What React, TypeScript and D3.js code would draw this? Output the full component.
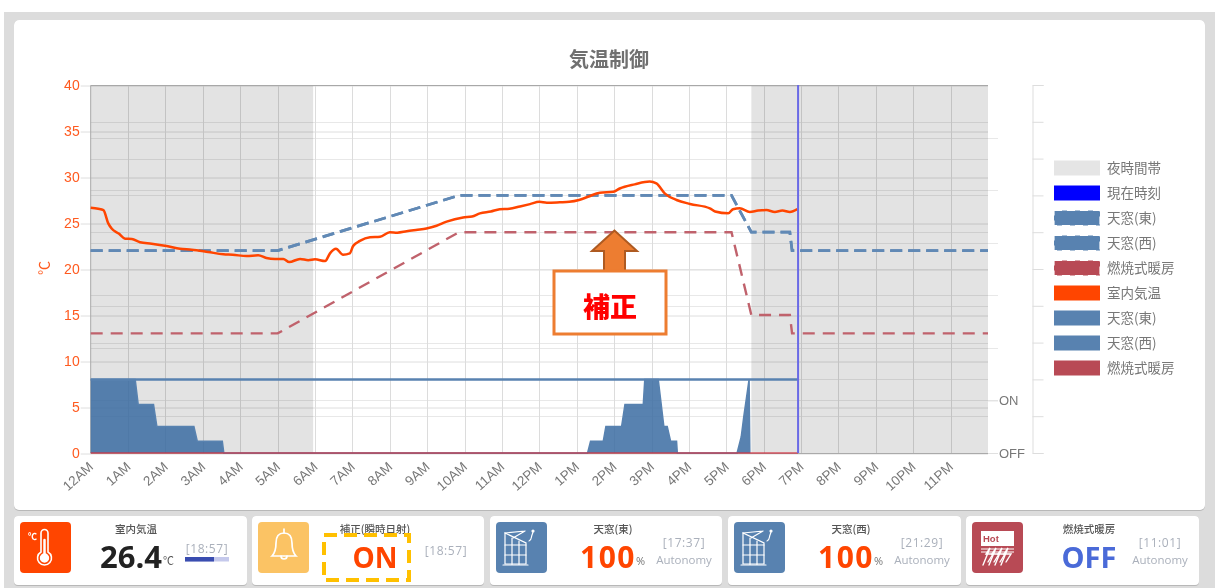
import { useEffect, useRef } from "react";
import * as d3 from "d3";

// --- data ---
const hourLabels = ["12AM","1AM","2AM","3AM","4AM","5AM","6AM","7AM","8AM","9AM","10AM","11AM","12PM","1PM","2PM","3PM","4PM","5PM","6PM","7PM","8PM","9PM","10PM","11PM"];
const tempTicks = [0, 5, 10, 15, 20, 25, 30, 35, 40];

const nightBands: [number, number][] = [[0, 5.95], [17.67, 24]];
const currentHour = 18.92;

const roomTempHours = [0,0.2,0.34,0.47,0.56,0.75,0.92,1.1,1.32,1.63,2.03,2.39,2.7,3.14,3.55,3.8,4.17,4.48,4.7,4.93,5.15,5.31,5.6,5.82,6,6.27,6.4,6.56,6.75,6.93,7.02,7.2,7.47,7.74,8,8.2,8.45,8.7,8.98,9.25,9.52,9.96,10.2,10.41,10.7,10.94,11.2,11.48,11.75,12,12.2,12.55,12.8,13.06,13.3,13.62,13.98,14.15,14.55,14.95,15.13,15.36,15.67,16.03,16.56,16.7,17.05,17.18,17.36,17.63,17.85,18.07,18.3,18.5,18.7,18.9];
const roomTemp = [26.66,26.55,26.4,24.96,24.4,23.85,23.3,23.26,22.9,22.75,22.5,22.2,22.1,21.85,21.6,21.55,21.4,21.5,21.2,21.1,21.1,20.75,21.1,20.95,21.05,20.87,21.7,22.2,21.55,21.7,22.5,23.05,23.45,23.5,24,23.95,24.1,24.25,24.4,24.7,25.15,25.6,25.7,26.05,26.25,26.5,26.55,26.8,27.05,27.3,27.2,27.25,27.3,27.5,27.85,28.3,28.4,28.75,29.2,29.5,29.3,28.2,27.5,27.07,26.6,26.25,26.05,26.5,26.6,26.2,26.35,26.4,26.2,26.35,26.2,26.5];

const setEastHours = [0,5,9.85,17.14,17.67,18.7,18.76,24];
const setEast = [22,22,28,28,24,24,22,22];
const setWest = [22,22,28,28,24,24,22,22];
const setHeaterHours = [0,5,9.85,17.14,17.67,18.7,18.76,24];
const setHeater = [13,13,24,24,15,15,13,13];

const windowHours = [0,1.19,1.27,1.68,1.77,2.76,2.85,3.52,3.56,13.29,13.37,13.71,13.78,14.2,14.29,14.78,14.82,15.18,15.33,15.42,15.51,15.67,15.69,17.29,17.4,17.47,17.54,17.61,17.63];
const windowEast = [100,100,66,66,36,36,16,16,0,0,16,16,36,36,66,66,100,100,36,36,16,16,0,0,22,50,75,100,0];
const windowWestHours = [0, 18.92];
const windowWest = [100, 100];
const heaterHours = [0, 18.92];
const heater = [0, 0];

const legendItems = [
  { label: "夜時間帯", color: "#e5e5e5", dashed: false },
  { label: "現在時刻", color: "#0000ff", dashed: false },
  { label: "天窓(東)", color: "#5882b0", dashed: true },
  { label: "天窓(西)", color: "#5882b0", dashed: true },
  { label: "燃焼式暖房", color: "#b84a55", dashed: true },
  { label: "室内気温", color: "#ff4500", dashed: false },
  { label: "天窓(東)", color: "#5882b0", dashed: false },
  { label: "天窓(西)", color: "#5882b0", dashed: false },
  { label: "燃焼式暖房", color: "#b84a55", dashed: false },
];

const LATIN = "'Liberation Sans', Arial, 'Noto Sans CJK JP', sans-serif";
const CJK = "'Noto Sans CJK JP', sans-serif";
const VALUE = "'Open Sans', 'Noto Sans', sans-serif";

const Chart = () => {
  const svgRef = useRef<SVGSVGElement>(null);

  useEffect(() => {
    if (!svgRef.current) return;
    const svg = d3.select(svgRef.current);
    svg.selectAll("*").remove();

    // page and cards
    svg.append("rect").attr("x", 4).attr("y", 12).attr("width", 1211).attr("height", 576).attr("fill", "#dcdcdc");
    svg.append("rect").attr("x", 14).attr("y", 20).attr("width", 1191).attr("height", 491).attr("rx", 5).attr("fill", "#b8b8b8");
    svg.append("rect").attr("x", 14).attr("y", 20).attr("width", 1191).attr("height", 490).attr("rx", 5).attr("fill", "#fff");

    const x = d3.scaleLinear().domain([0, 24]).range([90.7, 988]);
    const yTemp = d3.scaleLinear().domain([0, 40]).range([453, 85]);
    const yPercent = d3.scaleLinear().domain([0, 500]).range([453, 85]);
    const ySwitch = d3.scaleLinear().domain([0, 7]).range([453, 85]);
    const yTenth = d3.scaleLinear().domain([0, 10]).range([453, 85]);

    svg.append("text").attr("x", 609).attr("y", 67).attr("text-anchor", "middle")
      .attr("font-family", CJK).attr("font-weight", 700).attr("font-size", 20).attr("fill", "#707070").text("気温制御");

    // grid: three overlapping axes, as in the source chart
    const grid = svg.append("g");
    const hLines = (scale: d3.ScaleLinear<number, number>, values: number[], color: string, x2: number) =>
      grid.append("g").selectAll("line").data(values).join("line")
        .attr("x1", x(0)).attr("x2", x2)
        .attr("y1", (d) => Math.round(scale(d)) + 0.5).attr("y2", (d) => Math.round(scale(d)) + 0.5)
        .attr("stroke", color);
    hLines(yTenth, d3.range(1, 10), "#e8e8e8", x(24));
    hLines(ySwitch, d3.range(1, 7), "#e8e8e8", 998);
    grid.append("g").selectAll("line").data(d3.range(1, 24)).join("line")
      .attr("x1", (d) => Math.round(x(d)) + 0.5).attr("x2", (d) => Math.round(x(d)) + 0.5)
      .attr("y1", 85).attr("y2", 453).attr("stroke", "#dcdcdc");

    const tempAxis = d3.axisLeft(yTemp).tickValues(tempTicks).tickSize(10).tickPadding(0);
    const tempG = svg.append("g").attr("transform", `translate(${x(0)},0)`).call(tempAxis);
    tempG.select(".domain").remove();
    tempG.selectAll("line").attr("stroke", "#dedede").attr("x2", x(24) - x(0))
      .attr("x1", -10).attr("y1", 0.5).attr("y2", 0.5);
    tempG.selectAll("text").attr("x", -11).attr("fill", "#ff5a1f")
      .attr("font-family", LATIN).attr("font-size", 14);

    // night bands sit over the grid
    svg.append("g").selectAll("rect").data(nightBands).join("rect")
      .attr("x", (d) => x(d[0])).attr("width", (d) => x(d[1]) - x(d[0]))
      .attr("y", 85).attr("height", 368).attr("fill", "#000").attr("opacity", 0.11);

    // frame
    svg.append("path").attr("d", `M${x(0)},453V85.5H${x(24)}`).attr("fill", "none").attr("stroke", "#a8a8a8");
    svg.append("line").attr("x1", x(0)).attr("x2", x(24)).attr("y1", 453.5).attr("y2", 453.5).attr("stroke", "#aaa");

    // hour labels
    const xAxis = d3.axisBottom(x).tickValues(d3.range(0, 24)).tickSize(0)
      .tickFormat((_d, i) => hourLabels[i]);
    const xG = svg.append("g").attr("transform", "translate(0,453)").call(xAxis);
    xG.select(".domain").remove();
    xG.selectAll("text").attr("fill", "#777").attr("font-family", LATIN).attr("font-size", 13.5)
      .attr("text-anchor", "end").attr("dy", 0).attr("y", 0)
      .attr("transform", "translate(3,15) rotate(-42)");

    svg.append("text").attr("transform", "translate(49,268) rotate(-90)").attr("text-anchor", "middle")
      .attr("font-family", CJK).attr("font-size", 14).attr("fill", "#ff5a1f").text("℃");

    // right axes
    const switchAxis = d3.axisRight(ySwitch).tickValues([0, 1]).tickSize(10).tickPadding(0)
      .tickFormat((d) => (d === 0 ? "OFF" : "ON"));
    const switchG = svg.append("g").attr("transform", `translate(${x(24)},0)`).call(switchAxis);
    switchG.select(".domain").remove();
    switchG.selectAll("line").attr("stroke", "#e0e0e0");
    switchG.selectAll("text").attr("x", 11).attr("fill", "#777").attr("font-family", LATIN).attr("font-size", 13);

    const tenthAxis = d3.axisRight(yTenth).ticks(10).tickSize(11).tickFormat(() => "");
    const tenthG = svg.append("g").attr("transform", "translate(1032.5,0)").call(tenthAxis);
    tenthG.selectAll("line, path").attr("stroke", "#ddd");

    // window opening areas
    const hourIdx = (arr: number[]) => arr.map((_, i) => i);
    const areaEast = d3.area<number>()
      .x((i) => x(windowHours[i])).y0(yPercent(0)).y1((i) => yPercent(windowEast[i]));
    svg.append("path").datum(hourIdx(windowHours)).attr("d", areaEast)
      .attr("fill", "#3b6ca2").attr("fill-opacity", 0.85);
    const lineEast = d3.line<number>().x((i) => x(windowHours[i])).y((i) => yPercent(windowEast[i]));
    svg.append("path").datum(hourIdx(windowHours)).attr("d", lineEast)
      .attr("fill", "none").attr("stroke", "#5882b0").attr("stroke-width", 1.5);

    const lineWest = d3.line<number>().x((i) => x(windowWestHours[i])).y((i) => yPercent(windowWest[i]));
    svg.append("path").datum(hourIdx(windowWestHours)).attr("d", lineWest)
      .attr("fill", "none").attr("stroke", "#5882b0").attr("stroke-width", 2.5);

    const lineHeater = d3.line<number>().x((i) => x(heaterHours[i])).y((i) => yPercent(heater[i]));
    svg.append("path").datum(hourIdx(heaterHours)).attr("d", lineHeater)
      .attr("fill", "none").attr("stroke", "#d0303f").attr("stroke-opacity", 0.6).attr("stroke-width", 2);

    // setpoints
    const setLine = (hours: number[], vals: number[], color: string, width: number, dash: string) => {
      const l = d3.line<number>().x((i) => x(hours[i])).y((i) => yTemp(vals[i]));
      svg.append("path").datum(hourIdx(hours)).attr("d", l).attr("fill", "none")
        .attr("stroke", color).attr("stroke-width", width).attr("stroke-dasharray", dash);
    };
    setLine(setHeaterHours, setHeater, "#c0626c", 2.4, "12 8");
    setLine(setEastHours, setWest, "#6189b5", 2.7, "12 6");
    setLine(setEastHours, setEast, "#6189b5", 2.7, "12 6");

    // room temperature
    const tempLine = d3.line<number>().x((i) => x(roomTempHours[i])).y((i) => yTemp(roomTemp[i]))
      .curve(d3.curveMonotoneX);
    svg.append("path").datum(hourIdx(roomTempHours)).attr("d", tempLine)
      .attr("fill", "none").attr("stroke", "#ff4500").attr("stroke-width", 2.5);

    // now marker
    svg.append("line").attr("x1", x(currentHour)).attr("x2", x(currentHour)).attr("y1", 85).attr("y2", 453)
      .attr("stroke", "#6a6ae6").attr("stroke-width", 2);

    // legend
    const legend = svg.append("g").selectAll("g").data(legendItems).join("g")
      .attr("transform", (_d, i) => `translate(1054,${160.5 + i * 25})`);
    legend.append("rect").attr("width", 46).attr("height", 15).attr("fill", (d) => d.color)
      .attr("stroke", (d) => (d.dashed ? "#fff" : "none")).attr("stroke-dasharray", "8 5").attr("stroke-width", 1.2);
    legend.append("text").attr("x", 53).attr("y", 12.5).attr("fill", "#777")
      .attr("font-family", CJK).attr("font-size", 13.5).text((d) => d.label);

    // annotation
    const note = svg.append("g");
    note.append("path").attr("d", "M614.5,230.5L592,251H604V272H625V251H637Z")
      .attr("fill", "#ed7d31").attr("stroke", "#ae5a21").attr("stroke-width", 2);
    note.append("rect").attr("x", 554).attr("y", 271).attr("width", 112).attr("height", 63)
      .attr("fill", "#fff").attr("stroke", "#ed7d31").attr("stroke-width", 3);
    note.append("text").attr("x", 610).attr("y", 317).attr("text-anchor", "middle")
      .attr("font-family", CJK).attr("font-weight", 900).attr("font-size", 27).attr("fill", "#f00").text("補正");

    // status cards
    const cards = [
      { x: 14, w: 233, icon: "#ff4500", title: "室内気温", cx: 136 },
      { x: 252, w: 232, icon: "#fbc364", title: "補正(瞬時日射)", cx: 375 },
      { x: 490, w: 232, icon: "#5882b0", title: "天窓(東)", cx: 613 },
      { x: 728, w: 233, icon: "#5882b0", title: "天窓(西)", cx: 851 },
      { x: 966, w: 233, icon: "#b84a55", title: "燃焼式暖房", cx: 1089 },
    ];
    cards.forEach((c) => {
      svg.append("rect").attr("x", c.x).attr("y", 516).attr("width", c.w).attr("height", 70).attr("rx", 4).attr("fill", "#b8b8b8");
      svg.append("rect").attr("x", c.x).attr("y", 516).attr("width", c.w).attr("height", 69).attr("rx", 4).attr("fill", "#fff");
      svg.append("rect").attr("x", c.x + 6).attr("y", 522).attr("width", 51).attr("height", 51).attr("rx", 4).attr("fill", c.icon);
      svg.append("text").attr("x", c.cx).attr("y", 533).attr("text-anchor", "middle")
        .attr("font-family", CJK).attr("font-weight", 500).attr("font-size", 10.5).attr("fill", "#555").text(c.title);
    });
    const label = (tx: number, ty: number, s: string, size: number, fill: string, weight = 400, anchor = "start", family = VALUE) =>
      svg.append("text").attr("x", tx).attr("y", ty).attr("text-anchor", anchor).attr("font-family", family)
        .attr("font-size", size).attr("font-weight", weight).attr("fill", fill).text(s);
    const stamp = (tx: number, ty: number, s: string) =>
      label(tx, ty, s, 12, "#aab0bb", 400, "middle").attr("letter-spacing", 0.6);

    label(131, 568, "26.4", 31, "#222", 700, "middle");
    label(163, 565, "℃", 11, "#555", 400, "start", CJK);
    stamp(207, 553, "[18:57]");
    svg.append("rect").attr("x", 185).attr("y", 557).attr("width", 44).attr("height", 4.5).attr("fill", "#c5c9ec");
    svg.append("rect").attr("x", 185).attr("y", 557).attr("width", 29).attr("height", 4.5).attr("fill", "#3a4db0");

    label(375, 568, "ON", 28, "#ff4500", 700, "middle");
    svg.append("rect").attr("x", 324).attr("y", 535).attr("width", 85).attr("height", 45)
      .attr("fill", "none").attr("stroke", "#ffc000").attr("stroke-width", 4).attr("stroke-dasharray", "13 7");
    stamp(446, 555, "[18:57]");

    label(608, 568, "100", 30, "#ff4500", 700, "middle").attr("letter-spacing", 1.5);
    label(636, 565, "%", 11, "#777");
    stamp(684, 547, "[17:37]");
    label(684, 564, "Autonomy", 11.5, "#aab0bb", 400, "middle");

    label(846, 568, "100", 30, "#ff4500", 700, "middle").attr("letter-spacing", 1.5);
    label(874, 565, "%", 11, "#777");
    stamp(922, 547, "[21:29]");
    label(922, 564, "Autonomy", 11.5, "#aab0bb", 400, "middle");

    label(1089, 568, "OFF", 29, "#4a6ad8", 700, "middle");
    stamp(1160, 547, "[11:01]");
    label(1160, 564, "Autonomy", 11.5, "#aab0bb", 400, "middle");

    // icons
    const white = (g: d3.Selection<SVGGElement, unknown, null, undefined>) =>
      g.attr("fill", "none").attr("stroke", "#fff").attr("stroke-width", 1.4).attr("stroke-linecap", "round");

    const thermo = svg.append("g").call(white);
    thermo.append("path").attr("d", "M41,533a3.5,3.5 0 0 1 7,0V552a7,7 0 1 1 -7,0Z").attr("stroke-width", 1.6);
    thermo.append("circle").attr("cx", 44.5).attr("cy", 558).attr("r", 4).attr("fill", "#fff");
    thermo.append("line").attr("x1", 44.5).attr("x2", 44.5).attr("y1", 540).attr("y2", 555).attr("stroke-width", 2.5);
    label(28, 540, "℃", 9, "#fff", 700, "start", CJK);

    const bell = svg.append("g").call(white);
    bell.append("path").attr("d", "M284,533c-6,0 -8,5 -8,10c0,7 -1,10 -4,13h24c-3,-3 -4,-6 -4,-13c0,-5 -2,-10 -8,-10Z").attr("stroke-width", 1.7);
    bell.append("path").attr("d", "M281,556c0,4 6,4 6,0M284,533v-4").attr("stroke-width", 1.7);

    [0, 238].forEach((dx) => {
      const win = svg.append("g").attr("transform", `translate(${dx},0)`).call(white);
      win.attr("stroke-width", 1.2);
      win.append("path").attr("d", "M505,533V564H526V543Z");
      win.append("path").attr("d", "M505,545H526M505,555H526M512,538V564M519,541V564M503,565H528");
      win.append("path").attr("d", "M505,533L525,531M513,538L525,531M529,541c3,-1 2,-4 3,-6c1,-2 1,-3 1,-4");
      win.append("circle").attr("cx", 533).attr("cy", 531).attr("r", 1).attr("fill", "#fff");
    });

    const hot = svg.append("g");
    hot.append("rect").attr("x", 981).attr("y", 531).attr("width", 33).attr("height", 15).attr("fill", "#fff");
    label(983, 542, "Hot", 9.5, "#b84a55", 700, "start", LATIN);
    white(hot.append("g")).selectAll("path").data([0, 6, 12, 18]).join("path")
      .attr("d", (d) => `M${983 + d},565l${7},-17l-4,6l7,0l-5,8`);
    hot.append("path").attr("d", "M981,549H1014M981,552H1014").attr("stroke", "#fff");
  }, []);

  return <svg ref={svgRef} width={1215} height={588} style={{ position: "absolute", left: 0, top: 0, background: "#fff", filter: "blur(0.35px)" }} />;
};

export default function App() {
  return <Chart />;
}
